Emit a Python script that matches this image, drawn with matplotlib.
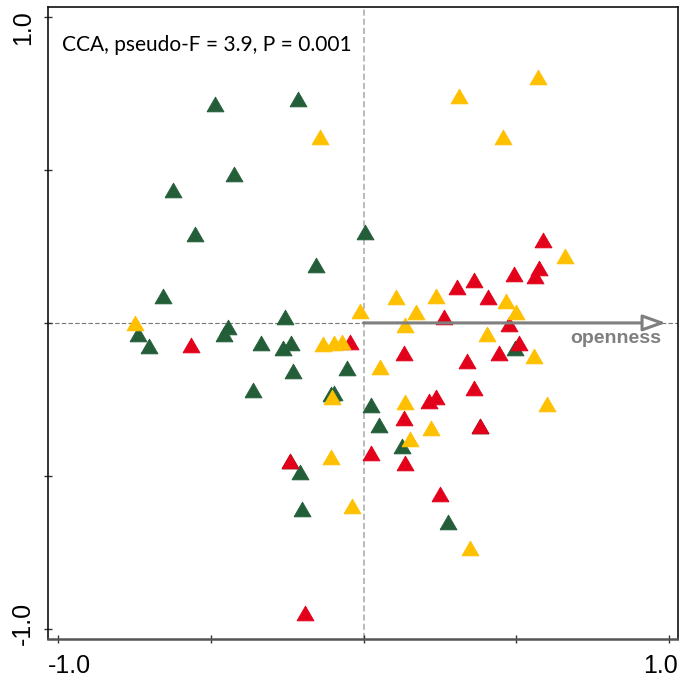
import numpy as np
import matplotlib.pyplot as plt
from matplotlib.patches import FancyArrowPatch
from matplotlib.transforms import blended_transform_factory

plt.rcParams['font.family'] = ['Liberation Sans', 'DejaVu Sans']

# sample scores on CCA axes 1 and 2, grouped by habitat class
green_x = [-0.486, -0.216, -0.423, -0.625, -0.553, 0.006, -0.155, -0.656, -0.258,
           -0.739, -0.703, -0.444, -0.457, -0.337, -0.236, -0.264, -0.230, -0.054,
           -0.361, -0.107, -0.096, 0.023, 0.050, 0.125, 0.497, 0.380, -0.241,
           -0.208, -0.202, 0.278]
green_y = [0.716, 0.732, 0.486, 0.435, 0.290, 0.297, 0.190, 0.088, 0.020,
           -0.037, -0.077, -0.012, -0.036, -0.066, -0.065, -0.082, -0.156, -0.146,
           -0.219, -0.233, -0.228, -0.269, -0.332, -0.401, -0.081, -0.337, -0.450,
           -0.487, -0.607, -0.650]

red_x = [-0.566, -0.045, 0.586, 0.574, 0.560, 0.493, 0.362, 0.305, 0.406, 0.263,
         0.475, 0.510, 0.444, 0.134, 0.337, 0.363, 0.238, 0.213, 0.131, 0.380,
         0.023, 0.136, 0.249, -0.191, -0.241]
red_y = [-0.071, -0.063, 0.271, 0.178, 0.154, 0.159, 0.141, 0.117, 0.085, 0.020,
         -0.004, -0.066, -0.097, -0.099, -0.125, -0.213, -0.241, -0.254, -0.310, -0.337,
         -0.424, -0.459, -0.560, -0.947, -0.450]

yellow_x = [-0.748, -0.141, 0.571, 0.314, 0.457, 0.660, 0.465, 0.498, 0.105, 0.236,
            0.171, -0.011, 0.136, 0.403, 0.557, 0.053, -0.132, -0.097, -0.070, -0.103,
            0.136, 0.602, 0.222, 0.151, -0.108, -0.039, 0.349]
yellow_y = [0.000, 0.606, 0.805, 0.740, 0.609, 0.220, 0.072, 0.035, 0.086, 0.088,
            0.037, 0.040, -0.007, -0.036, -0.108, -0.143, -0.069, -0.065, -0.061, -0.241,
            -0.258, -0.264, -0.343, -0.380, -0.439, -0.598, -0.736]

# environmental variable score (biplot arrow)
env_name = 'openness'
env_x, env_y = 0.99, 0.0

stats_text = 'CCA, pseudo-F = 3.9, P = 0.001'

GREEN = '#235E39'
RED = '#E2001A'
YELLOW = '#FFC000'

# equilateral triangle marker
tri = [(-1, -0.866), (1, -0.866), (0, 0.866), (-1, -0.866)]

fig = plt.figure(figsize=(6.79, 6.78), dpi=100)
ax = fig.add_axes([0.071, 0.0575, 0.927, 0.932])

ax.axvline(0, color='#a8a8a8', lw=1.1, ls=(0, (4, 2)), zorder=1)
ax.axhline(0, color='#777777', lw=0.8, ls=(0, (4, 2)), zorder=1)

ax.scatter(green_x, green_y, s=150, marker=tri, color=GREEN, edgecolors=GREEN,
           linewidths=0.6, zorder=3)
ax.scatter(red_x, red_y, s=150, marker=tri, color=RED, edgecolors=RED,
           linewidths=0.6, zorder=3)
ax.scatter(yellow_x, yellow_y, s=150, marker=tri, color=YELLOW, edgecolors=YELLOW,
           linewidths=0.6, zorder=4)

arrow = FancyArrowPatch((0, 0), (env_x, env_y),
                        arrowstyle='-|>,head_length=14,head_width=5',
                        mutation_scale=1, lw=2.2, edgecolor='#7f7f7f',
                        facecolor='white', shrinkA=0, shrinkB=0, zorder=5)
ax.add_patch(arrow)
ax.text(env_x - 0.015, env_y - 0.052, env_name, ha='right', va='center',
        fontsize=14, fontweight='bold', color='#7f7f7f', zorder=6)

ax.text(0.022, 0.94, stats_text, transform=ax.transAxes, ha='left', va='center',
        fontsize=15, family=['Lato', 'DejaVu Sans'])

ax.set_xlim(-1.032, 1.028)
ax.set_ylim(-1.033, 1.032)

ticks = [-1.0, -0.5, 0.0, 0.5, 1.0]
ax.set_xticks(ticks)
ax.set_yticks(ticks)
ax.set_xticklabels([])
ax.set_yticklabels([])
ax.tick_params(direction='inout', length=6, width=1, colors='#333333')

for side in ['top', 'right', 'left']:
    ax.spines[side].set_color('#111111')
    ax.spines[side].set_linewidth(1.2)
ax.spines['bottom'].set_color('#555555')
ax.spines['bottom'].set_linewidth(1.8)

# end labels only, kept inside the axis span
bx = blended_transform_factory(ax.transData, ax.transAxes)
ax.text(-1.032, -0.042, '-1.0', transform=bx, ha='left', va='center', fontsize=18)
ax.text(1.028, -0.042, '1.0', transform=bx, ha='right', va='center', fontsize=18)
by = blended_transform_factory(ax.transAxes, ax.transData)
ax.text(-0.04, 1.023, '1.0', transform=by, rotation=90, ha='center', va='top',
        fontsize=18)
ax.text(-0.04, -1.052, '-1.0', transform=by, rotation=90, ha='center', va='bottom',
        fontsize=18)

fig.savefig('out.png', dpi=100)
